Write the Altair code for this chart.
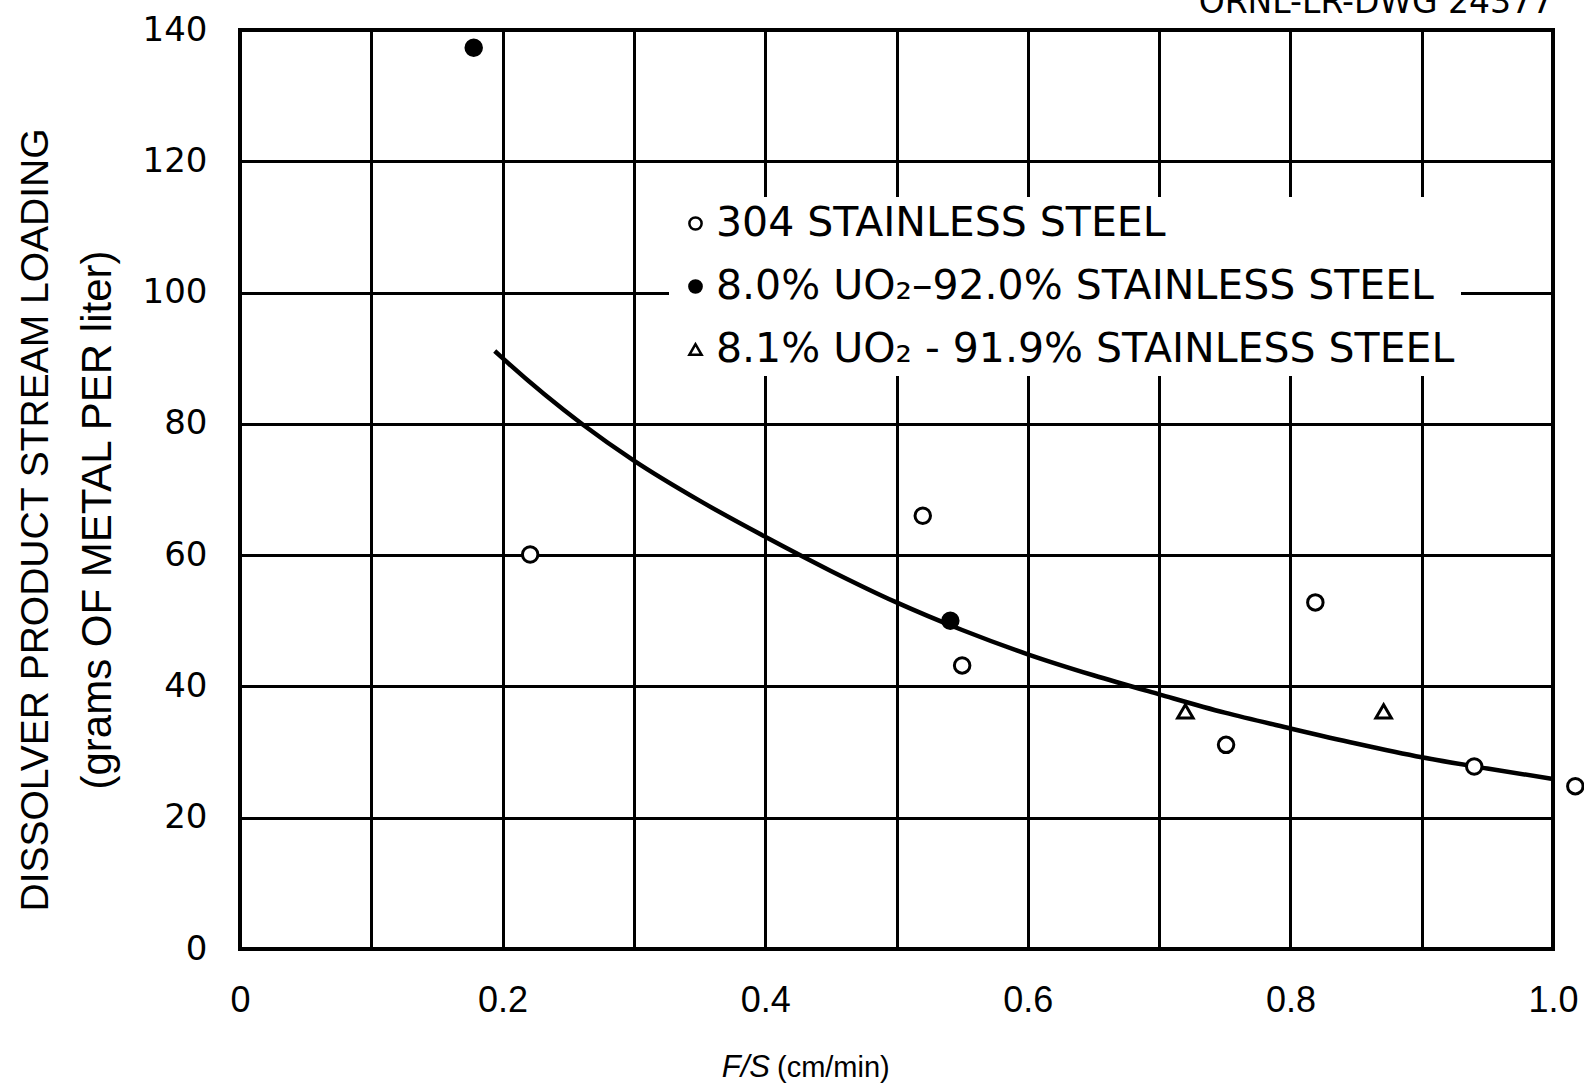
import altair as alt
import pandas as pd

# ---- data ----
ss_x = [0.221, 0.520, 0.550, 0.751, 0.819, 0.940, 1.017]
ss_y = [60.1, 66.0, 43.2, 31.1, 52.8, 27.8, 24.8]

uo80_x = [0.178, 0.541]
uo80_y = [137.3, 50.0]

uo81_x = [0.720, 0.871]
uo81_y = [36.2, 36.2]

curve_x = [0.194, 0.2, 0.261, 0.3, 0.35, 0.4, 0.45, 0.5, 0.55, 0.6, 0.65,
           0.7, 0.75, 0.8, 0.85, 0.9, 0.95, 1.0]
curve_y = [91.1, 90.0, 79.9, 74.4, 68.3, 62.8, 57.6, 52.8, 48.6, 44.9, 41.7,
           38.8, 36.0, 33.6, 31.3, 29.2, 27.5, 25.9]

series_names = ["304 STAINLESS STEEL",
                "8.0% UO₂–92.0% STAINLESS STEEL",
                "8.1% UO₂ - 91.9% STAINLESS STEEL"]

x_ticks = [0, 0.1, 0.2, 0.3, 0.4, 0.5, 0.6, 0.7, 0.8, 0.9, 1.0]
y_ticks = [0, 20, 40, 60, 80, 100, 120, 140]

y_title_1 = "DISSOLVER PRODUCT STREAM LOADING"
y_title_2 = "(grams OF METAL PER liter)"
x_title_italic = "F/S"
x_title_rest = "(cm/min)"
drawing_no = "ORNL-LR-DWG 24377"

# ---- tables ----
pts = pd.DataFrame({
    "x": ss_x + uo80_x + uo81_x,
    "y": ss_y + uo80_y + uo81_y,
    "series": [series_names[0]] * len(ss_x) + [series_names[1]] * len(uo80_x)
              + [series_names[2]] * len(uo81_x),
})
curve = pd.DataFrame({"x": curve_x, "y": curve_y})

xscale = alt.Scale(domain=[0, 1], nice=False, zero=False)
yscale = alt.Scale(domain=[0, 140], nice=False)

xaxis = alt.Axis(values=x_ticks, grid=True, gridColor="black", gridWidth=3, gridOpacity=1,
                 domain=False, ticks=False, title=None,
                 labelExpr="round(datum.value*10) % 2 == 0 ? (datum.value == 0 ? '0' : format(datum.value, '.1f')) : ''",
                 labelFont="Liberation Sans", labelFontSize=36, labelColor="black",
                 labelPadding=34, labelFlush=False)
yaxis = alt.Axis(values=y_ticks, grid=True, gridColor="black", gridWidth=3, gridOpacity=1,
                 domain=False, ticks=False, title=None,
                 labelFont="DejaVu Sans", labelFontSize=34, labelColor="black",
                 labelPadding=33, labelFlush=False)

legend = alt.Legend(title=None, orient="none", legendX=429, legendY=167, padding=6,
                    fillColor="white", labelFont="DejaVu Sans", labelFontSize=41,
                    labelColor="black", labelLimit=2000, labelOffset=0, rowPadding=21,
                    symbolSize=150, symbolStrokeWidth=2.5)

sdom = series_names

line = alt.Chart(curve).mark_line(color="black", strokeWidth=4.5, interpolate="monotone").encode(
    x=alt.X("x:Q", scale=xscale, axis=xaxis),
    y=alt.Y("y:Q", scale=yscale, axis=yaxis),
)

points = alt.Chart(pts).mark_point(filled=True, strokeWidth=3, size=240, opacity=1).encode(
    x=alt.X("x:Q", scale=xscale),
    y=alt.Y("y:Q", scale=yscale),
    shape=alt.Shape("series:N", scale=alt.Scale(domain=sdom,
                                                range=["circle", "circle", "triangle-up"]),
                    legend=legend),
    fill=alt.Fill("series:N", scale=alt.Scale(domain=sdom,
                                              range=["white", "black", "white"]),
                  legend=legend),
    stroke=alt.Stroke("series:N", scale=alt.Scale(domain=sdom,
                                                  range=["black", "black", "black"]),
                      legend=legend),
)

def label(txt, x, y, angle=0, size=36, font="Liberation Sans", align="center",
          baseline="middle", style="normal"):
    return alt.Chart(pd.DataFrame({"t": [txt]})).mark_text(
        angle=angle, fontSize=size, font=font, align=align, baseline=baseline,
        fontStyle=style, color="black").encode(
        text="t:N", x=alt.value(x), y=alt.value(y))

texts = [
    label(y_title_1, -204, 490, angle=270, size=39),
    label(y_title_2, -142, 490, angle=270, size=42),
    label(x_title_italic, 530, 1038, size=31, align="right", style="italic"),
    label(x_title_rest, 537, 1038, size=29, align="left"),
    label(drawing_no, 1313, -17, size=33, font="DejaVu Sans", align="right",
          baseline="alphabetic"),
]

chart = alt.layer(line, points, *texts).properties(
    width=1313, height=919,
    autosize=alt.AutoSizeParams(type="none"),
    padding={"left": 240, "top": 30, "right": 31, "bottom": 138},
    background="white",
).configure_view(stroke="black", strokeWidth=4)

chart.save("out.html", embed_options={"renderer": "svg", "actions": False})
